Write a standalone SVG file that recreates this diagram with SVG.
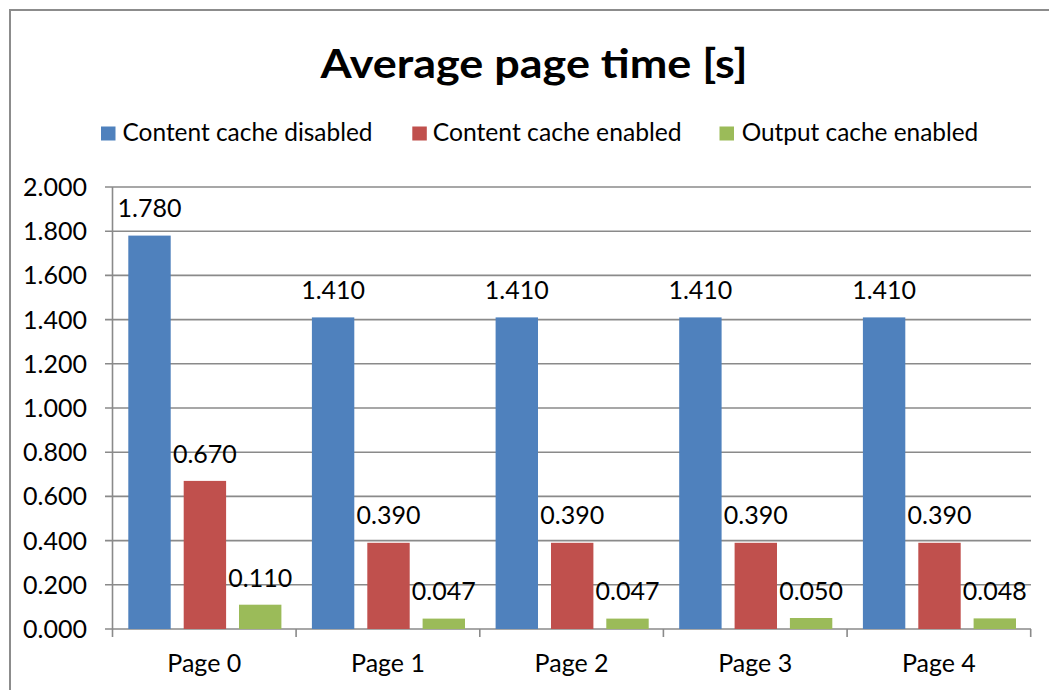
<svg xmlns="http://www.w3.org/2000/svg" width="1049" height="690" viewBox="0 0 1049 690">
<style>
text{font-family:Lato,"Liberation Sans",sans-serif;fill:#000;}
.t{font-size:41px;font-weight:bold;}
.l{font-size:25px;}
.grid{stroke:#8a8a8a;stroke-width:1.6;fill:none;}
.b{fill:#4F81BD;}
.r{fill:#C0504D;}
.g{fill:#9BBB59;}
</style>
<rect x="10" y="10" width="1060" height="700" fill="#fff" stroke="#8c8c8c" stroke-width="2"/>
<text class="t" x="534" y="77.5" text-anchor="middle" textLength="427" lengthAdjust="spacingAndGlyphs">Average page time [s]</text>
<g id="legend">
<rect class="b" x="101" y="126.5" width="14.5" height="14"/>
<text class="l" x="122.5" y="140.5" textLength="250" lengthAdjust="spacingAndGlyphs">Content cache disabled</text>
<rect class="r" x="412.3" y="126.5" width="14.5" height="14"/>
<text class="l" x="432.7" y="140.5" textLength="249" lengthAdjust="spacingAndGlyphs">Content cache enabled</text>
<rect class="g" x="719.5" y="126.5" width="14.5" height="14"/>
<text class="l" x="741.7" y="140.5" textLength="236.6" lengthAdjust="spacingAndGlyphs">Output cache enabled</text>
</g>
<g id="gridlines" class="grid">
<path d="M105 187H1031M105 231.2H1031M105 275.4H1031M105 319.6H1031M105 363.8H1031M105 408H1031M105 452.2H1031M105 496.4H1031M105 540.6H1031M105 584.8H1031"/>
</g>
<g id="axes" class="grid">
<path d="M112.5 187V637M105 629H1031M296.1 629V637M479.8 629V637M663.4 629V637M847.1 629V637M1030.7 629V637"/>
</g>
<g id="yaxis-labels" class="l" text-anchor="end">
<text x="87" y="196">2.000</text>
<text x="87" y="240.2">1.800</text>
<text x="87" y="284.4">1.600</text>
<text x="87" y="328.6">1.400</text>
<text x="87" y="372.8">1.200</text>
<text x="87" y="417">1.000</text>
<text x="87" y="461.2">0.800</text>
<text x="87" y="505.4">0.600</text>
<text x="87" y="549.6">0.400</text>
<text x="87" y="593.8">0.200</text>
<text x="87" y="638">0.000</text>
</g>
<g id="bars-disabled">
<rect class="b" x="128.3" y="235.6" width="42.4" height="393.4"/>
<rect class="b" x="311.9" y="317.4" width="42.4" height="311.6"/>
<rect class="b" x="495.6" y="317.4" width="42.4" height="311.6"/>
<rect class="b" x="679.2" y="317.4" width="42.4" height="311.6"/>
<rect class="b" x="862.9" y="317.4" width="42.4" height="311.6"/>
</g>
<g id="bars-content">
<rect class="r" x="183.7" y="480.9" width="42.4" height="148.1"/>
<rect class="r" x="367.3" y="542.8" width="42.4" height="86.2"/>
<rect class="r" x="551" y="542.8" width="42.4" height="86.2"/>
<rect class="r" x="734.6" y="542.8" width="42.4" height="86.2"/>
<rect class="r" x="918.3" y="542.8" width="42.4" height="86.2"/>
</g>
<g id="bars-output">
<rect class="g" x="239" y="604.7" width="42.4" height="24.3"/>
<rect class="g" x="422.6" y="618.6" width="42.4" height="10.4"/>
<rect class="g" x="606.3" y="618.6" width="42.4" height="10.4"/>
<rect class="g" x="789.9" y="618" width="42.4" height="11"/>
<rect class="g" x="973.6" y="618.4" width="42.4" height="10.6"/>
</g>
<g id="data-labels" class="l" text-anchor="middle">
<text x="149.5" y="217">1.780</text>
<text x="333.1" y="299">1.410</text>
<text x="516.8" y="299">1.410</text>
<text x="700.4" y="299">1.410</text>
<text x="884.1" y="299">1.410</text>
<text x="204.9" y="462.5">0.670</text>
<text x="388.5" y="524.3">0.390</text>
<text x="572.2" y="524.3">0.390</text>
<text x="755.8" y="524.3">0.390</text>
<text x="939.5" y="524.3">0.390</text>
<text x="260.2" y="586.5">0.110</text>
<text x="443.8" y="600.3">0.047</text>
<text x="627.5" y="600.3">0.047</text>
<text x="811.1" y="599.7">0.050</text>
<text x="994.8" y="600.1">0.048</text>
</g>
<g id="xaxis-labels" class="l" text-anchor="middle">
<text x="204.3" y="671.5">Page 0</text>
<text x="388" y="671.5">Page 1</text>
<text x="571.6" y="671.5">Page 2</text>
<text x="755.2" y="671.5">Page 3</text>
<text x="938.9" y="671.5">Page 4</text>
</g>
</svg>
